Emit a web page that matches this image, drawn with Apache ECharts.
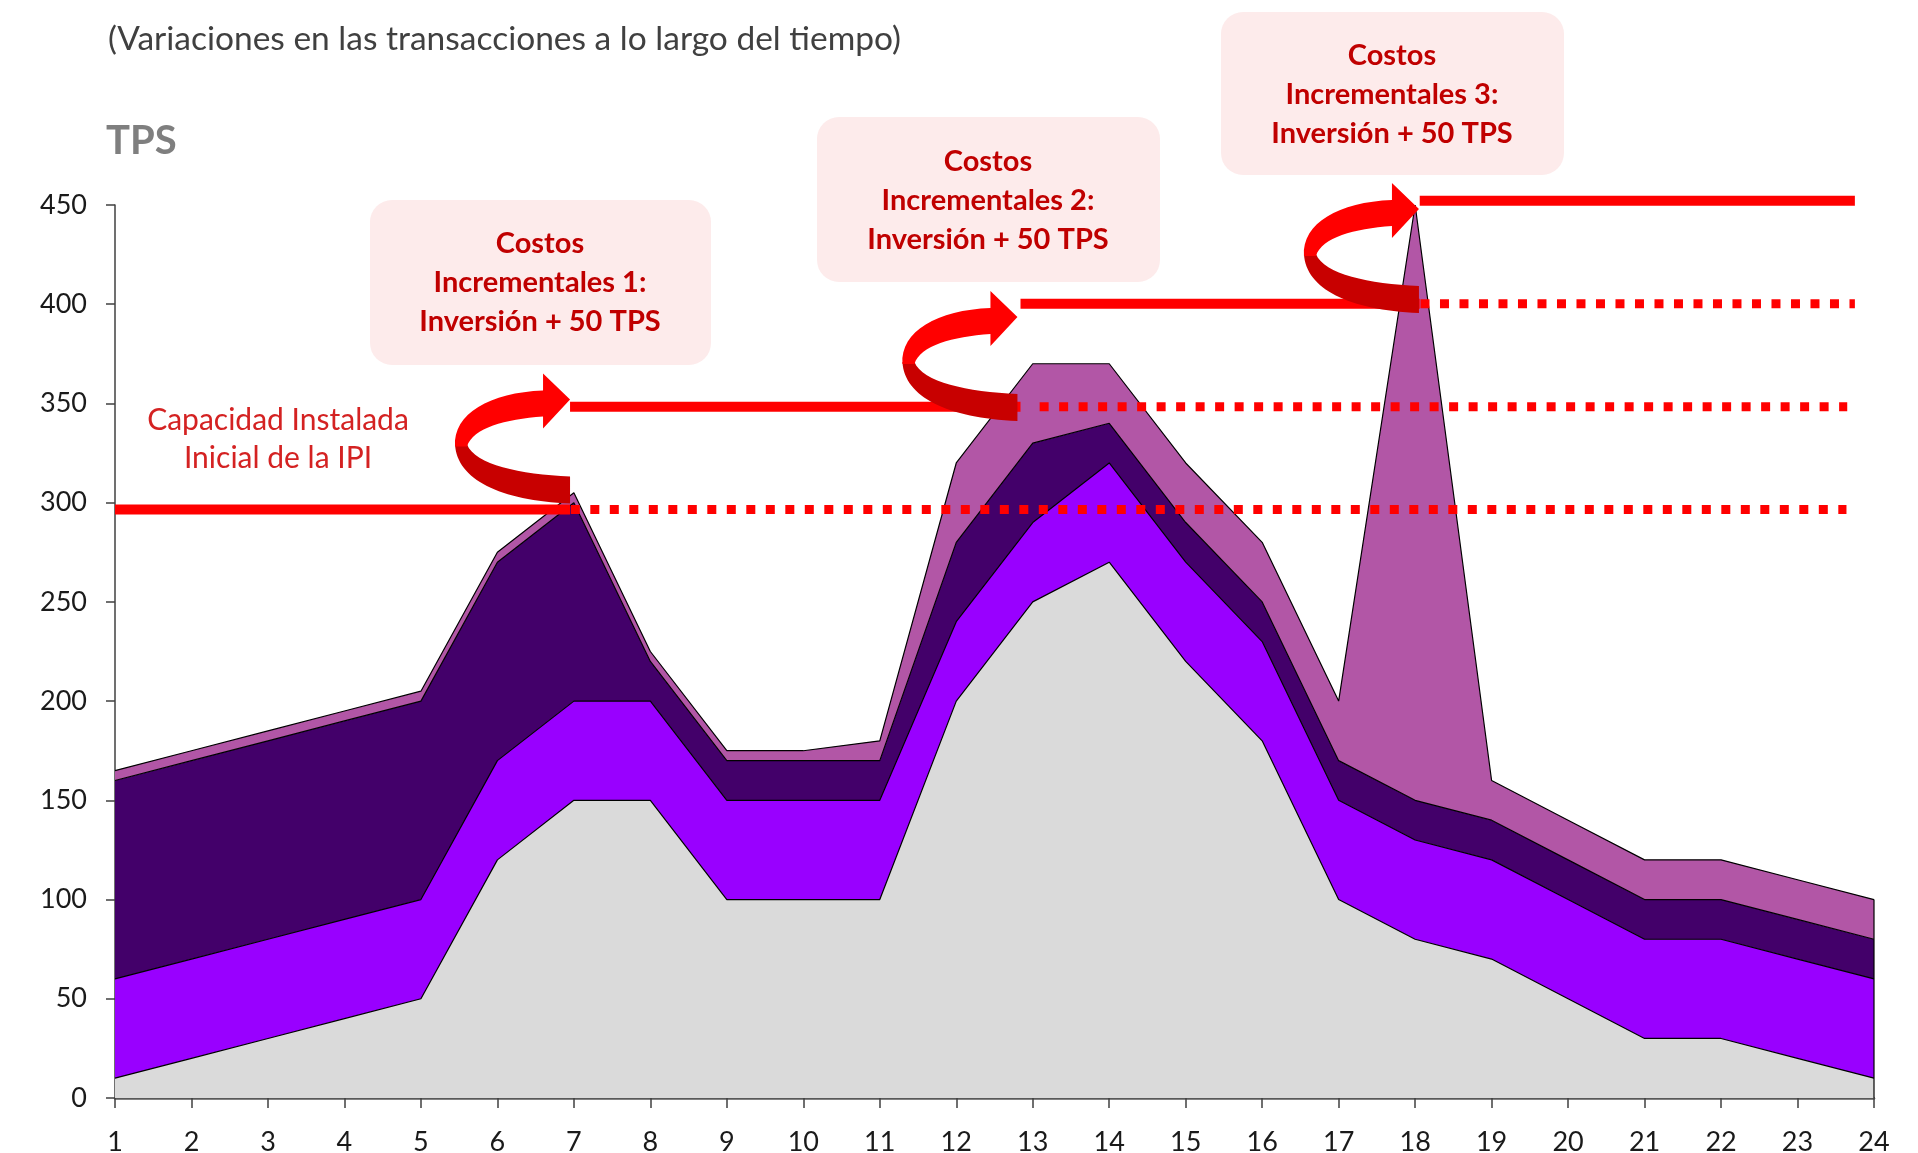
<!DOCTYPE html>
<html>
<head>
<meta charset="utf-8">
<script src="https://cdn.jsdelivr.net/npm/echarts@6/dist/echarts.min.js"></script>
<style>
html,body{margin:0;padding:0;background:#ffffff;}
#chart{width:1918px;height:1153px;}
</style>
</head>
<body>
<div id="chart"></div>
<script>
// ---- data ----
const hours = ['1','2','3','4','5','6','7','8','9','10','11','12','13','14','15','16','17','18','19','20','21','22','23','24'];
const baseTPS   = [10,20,30,40,50,120,150,150,100,100,100,200,250,270,220,180,100,80,70,50,30,30,20,10];
const layer2TPS = [50,50,50,50,50,50,50,50,50,50,50,40,40,50,50,50,50,50,50,50,50,50,50,50];
const layer3TPS = [100,100,100,100,100,100,100,20,20,20,20,40,40,20,20,20,20,20,20,20,20,20,20,20];
const layer4TPS = [5,5,5,5,5,5,5,5,5,5,10,40,40,30,30,30,30,300,20,20,20,20,20,20];
const yTicks = [0,50,100,150,200,250,300,350,400,450];

// capacity levels: [xStart, xEnd, level]
const capacitySolid  = [[1,6.95,296.5],[6.95,12.84,348.3],[12.84,18.06,400.3],[18.06,23.75,452.2]];
const capacityDotted = [[6.96,23.64,296.5],[13.09,23.65,348.3],[18.07,23.75,400.3]];
// investment arrows: tip position [x, level]
const arrowTips = [[6.95,352],[12.8,393.6],[18.05,448]];

const subtitle = '(Variaciones en las transacciones a lo largo del tiempo)';
const capLabel = 'Capacidad Instalada\nInicial de la IPI';
const boxTexts = [
  'Costos\nIncrementales 1:\nInversión + 50 TPS',
  'Costos\nIncrementales 2:\nInversión + 50 TPS',
  'Costos\nIncrementales 3:\nInversión + 50 TPS'
];

// ---- chart ----
const FONT = 'Lato';
const chart = echarts.init(document.getElementById('chart'), null, {renderer:'canvas'});

function areaSeries(name, data, color){
  return {
    name, type:'line', stack:'tps', data, symbol:'none', showSymbol:false,
    lineStyle:{color:'#000000', width:1.2},
    areaStyle:{color, opacity:1},
    z:2, silent:true
  };
}

const series = [
  areaSeries('Base', baseTPS, '#DADADA'),
  areaSeries('Capa 2', layer2TPS, '#9900FF'),
  areaSeries('Capa 3', layer3TPS, '#43006A'),
  areaSeries('Capa 4', layer4TPS, '#B256A6')
];

const last = hours.length - 1;
const lastTotal = baseTPS[last] + layer2TPS[last] + layer3TPS[last] + layer4TPS[last];
series.push({
  type:'line', xAxisIndex:1, data:[[24,0],[24,lastTotal]], symbol:'none',
  lineStyle:{color:'#000', width:1.2}, z:3, silent:true, clip:false
});

capacitySolid.forEach(function(s){
  series.push({
    type:'line', xAxisIndex:1, data:[[s[0],s[2]],[s[1],s[2]]], symbol:'none', clip:false,
    lineStyle:{color:'#FF0000', width:10, cap:'butt'}, z:5, silent:true
  });
});
capacityDotted.forEach(function(s){
  series.push({
    type:'line', xAxisIndex:1, data:[[s[0],s[2]],[s[1],s[2]]], symbol:'none', clip:false,
    lineStyle:{color:'#FF0000', width:9, type:[9,10.5], cap:'butt'}, z:5, silent:true
  });
});

const DARK_PATH = 'M -115 45 C -113 80 -70 101 0 104 L 0 77 C -50 75 -95 65 -103 45 Z';
const BRIGHT_PATH = 'M -27 -26 L 0 0 L -27 29 L -27 17 C -65 20 -97 28 -103 47 L -115 47 C -117 14 -80 -7 -27 -9 Z';

series.push({
  type:'custom', xAxisIndex:1, data:arrowTips, clip:false, z:6, silent:true,
  renderItem:function(params, api){
    const p = api.coord([api.value(0), api.value(1)]);
    return {
      type:'group', x:p[0], y:p[1],
      children:[
        {type:'path', shape:{pathData:DARK_PATH}, style:{fill:'#C80000'}},
        {type:'path', shape:{pathData:BRIGHT_PATH}, style:{fill:'#FF0000'}}
      ]
    };
  }
});

const boxes = [
  {x:370, y:200, w:341, h:165, cx:540, cy:283},
  {x:817, y:117, w:343, h:165, cx:988, cy:200.5},
  {x:1221, y:12, w:343, h:163, cx:1392, cy:94.5}
];
const graphic = [];
boxes.forEach(function(b, i){
  graphic.push({type:'rect', shape:{x:b.x, y:b.y, width:b.w, height:b.h, r:22}, style:{fill:'#FDEBEB'}, z:1});
  graphic.push({type:'text', x:b.cx, y:b.cy, z:2, style:{
    text:boxTexts[i], font:'bold 29px Lato', fill:'#C00000',
    align:'center', verticalAlign:'middle', lineHeight:39
  }});
});
graphic.push({type:'text', x:278, y:439, z:2, style:{
  text:capLabel, font:'30px Lato', fill:'#D42222',
  align:'center', verticalAlign:'middle', lineHeight:38
}});

const option = {
  animation:false,
  backgroundColor:'#ffffff',
  title:{
    text:subtitle, left:108, top:22, padding:0,
    textStyle:{fontFamily:FONT, fontSize:33.5, fontWeight:'normal', color:'#404040'}
  },
  grid:{left:115, right:44, top:205, bottom:55, containLabel:false, outerBoundsMode:'none'},
  xAxis:[
    {
      type:'category', data:hours, boundaryGap:false,
      axisLine:{show:true, lineStyle:{color:'#595959', width:2.5}},
      axisTick:{show:true, length:10, inside:false, interval:0, lineStyle:{color:'#404040', width:1.5}},
      axisLabel:{interval:0, margin:31, fontFamily:FONT, fontSize:27, color:'#1a1a1a'},
      splitLine:{show:false}
    },
    {
      type:'value', min:1, max:24, show:false, splitLine:{show:false}
    }
  ],
  yAxis:{
    type:'value', min:yTicks[0], max:yTicks[yTicks.length-1], interval:50,
    name:'TPS', nameLocation:'end', nameGap:64,
    nameTextStyle:{fontFamily:FONT, fontSize:40, fontWeight:'bold', color:'#7F7F7F', align:'left', verticalAlign:'middle', padding:[0,0,0,-9]},
    axisLine:{show:true, lineStyle:{color:'#404040', width:1.5}},
    axisTick:{show:true, length:9, inside:false, lineStyle:{color:'#404040', width:1.5}},
    axisLabel:{margin:28, fontFamily:FONT, fontSize:27, color:'#1a1a1a'},
    splitLine:{show:false}
  },
  graphic:graphic,
  series:series
};
chart.setOption(option);
</script>
</body>
</html>
